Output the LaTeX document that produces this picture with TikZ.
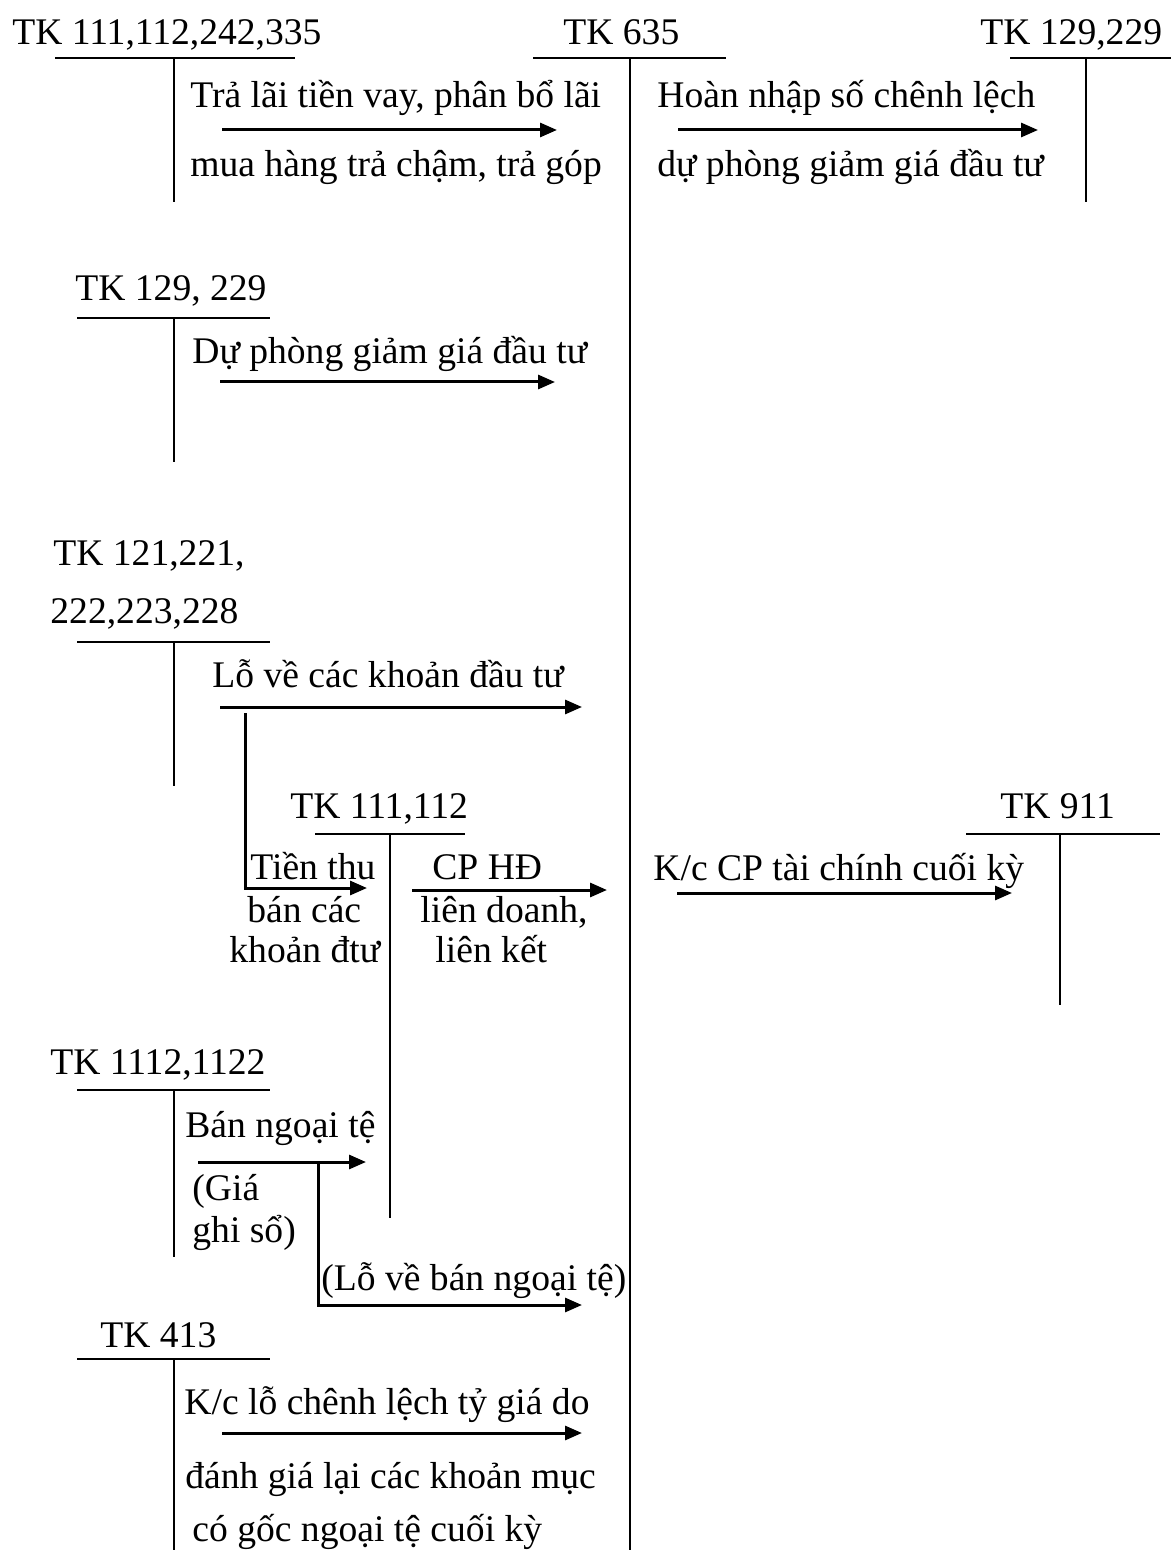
\documentclass[tikz,border=0pt]{standalone}
\usepackage{fontspec}
\setmainfont{Liberation Serif}
\usetikzlibrary{arrows.meta}
\begin{document}
\begin{tikzpicture}[x=0.5pt,y=-0.5pt,
  tline/.style={line width=1pt},
  flow/.style={line width=1.5pt,-{Triangle[length=8.5pt,width=7pt]}},
  lbl/.style={inner sep=0pt,anchor=base west,font=\fontsize{18.8}{23}\selectfont}]
\useasboundingbox (0,0) rectangle (1171,1550);
\clip (0,0) rectangle (1171,1550);

% ---------- T accounts ----------
% TK 111,112,242,335
\node[lbl] (tA) at (12,45) {TK 111,112,242,335};
\coordinate (tAl) at (55,58); \coordinate (tAr) at (295,58);
\coordinate (tAt) at (174,58); \coordinate (tAb) at (174,202);
\draw[tline] (tAl) -- (tAr); \draw[tline] (tAt) -- (tAb);
% TK 635
\node[lbl] (tB) at (563,45) {TK 635};
\coordinate (tBl) at (533,58); \coordinate (tBr) at (726,58);
\coordinate (tBt) at (630,58); \coordinate (tBb) at (630,1550);
\draw[tline] (tBl) -- (tBr); \draw[tline] (tBt) -- (tBb);
% TK 129,229 (right)
\node[lbl] (tC) at (980,45) {TK 129,229};
\coordinate (tCl) at (1010,58); \coordinate (tCr) at (1171,58);
\coordinate (tCt) at (1086,58); \coordinate (tCb) at (1086,202);
\draw[tline] (tCl) -- (tCr); \draw[tline] (tCt) -- (tCb);
% TK 129, 229 (left)
\node[lbl] (tD) at (75,301) {TK 129, 229};
\coordinate (tDl) at (77,318); \coordinate (tDr) at (270,318);
\coordinate (tDt) at (174,318); \coordinate (tDb) at (174,462);
\draw[tline] (tDl) -- (tDr); \draw[tline] (tDt) -- (tDb);
% TK 121,...
\node[lbl] (tE1) at (53,566) {TK 121,221,};
\node[lbl] (tE2) at (50,623) {222,223,228};
\coordinate (tEl) at (77,642); \coordinate (tEr) at (270,642);
\coordinate (tEt) at (174,642); \coordinate (tEb) at (174,786);
\draw[tline] (tEl) -- (tEr); \draw[tline] (tEt) -- (tEb);
% TK 111,112 (middle)
\node[lbl] (tF) at (290,818) {TK 111,112};
\coordinate (tFl) at (315,834); \coordinate (tFr) at (465,834);
\coordinate (tFt) at (390,834); \coordinate (tFb) at (390,1218);
\draw[tline] (tFl) -- (tFr); \draw[tline] (tFt) -- (tFb);
% TK 911
\node[lbl] (tG) at (1000,818) {TK 911};
\coordinate (tGl) at (966,834); \coordinate (tGr) at (1160,834);
\coordinate (tGt) at (1060,834); \coordinate (tGb) at (1060,1005);
\draw[tline] (tGl) -- (tGr); \draw[tline] (tGt) -- (tGb);
% TK 1112,1122
\node[lbl] (tH) at (50,1074) {TK 1112,1122};
\coordinate (tHl) at (77,1090); \coordinate (tHr) at (270,1090);
\coordinate (tHt) at (174,1090); \coordinate (tHb) at (174,1257);
\draw[tline] (tHl) -- (tHr); \draw[tline] (tHt) -- (tHb);
% TK 413
\node[lbl] (tI) at (100,1347) {TK 413};
\coordinate (tIl) at (77,1359); \coordinate (tIr) at (270,1359);
\coordinate (tIt) at (174,1359); \coordinate (tIb) at (174,1550);
\draw[tline] (tIl) -- (tIr); \draw[tline] (tIt) -- (tIb);

% ---------- texts ----------
\node[lbl] (x1a) at (190,108) {Trả lãi tiền vay, phân bổ lãi};
\node[lbl] (x1b) at (190,177) {mua hàng trả chậm, trả góp};
\node[lbl] (x2a) at (657,108) {Hoàn nhập số chênh lệch};
\node[lbl] (x2b) at (657,177) {dự phòng giảm giá đầu tư};
\node[lbl] (x3) at (192,364) {Dự phòng giảm giá đầu tư};
\node[lbl] (x4) at (212,687) {Lỗ về các khoản đầu tư};
\node[lbl] (x5a) at (250,879) {Tiền thu};
\node[lbl] (x5b) at (247,922) {bán các};
\node[lbl] (x5c) at (229,962) {khoản đtư};
\node[lbl] (x6a) at (432,879) {CP HĐ};
\node[lbl] (x6b) at (420,922) {liên doanh,};
\node[lbl] (x6c) at (435,962) {liên kết};
\node[lbl] (x7) at (653,880) {K/c CP tài chính cuối kỳ};
\node[lbl] (x8) at (185,1137) {Bán ngoại tệ};
\node[lbl] (x9a) at (192,1200) {(Giá};
\node[lbl] (x9b) at (192,1242) {ghi sổ)};
\node[lbl] (x10) at (321,1290) {(Lỗ về bán ngoại tệ)};
\node[lbl] (x11a) at (184,1414) {K/c lỗ chênh lệch tỷ giá do};
\node[lbl] (x11b) at (185,1488) {đánh giá lại các khoản mục};
\node[lbl] (x11c) at (192,1541) {có gốc ngoại tệ cuối kỳ};

% ---------- arrows ----------
\coordinate (a1s) at (222,130); \coordinate (a1e) at (557,130);
\draw[flow] (a1s) -- (a1e);
\coordinate (a2s) at (678,130); \coordinate (a2e) at (1038,130);
\draw[flow] (a2s) -- (a2e);
\coordinate (a3s) at (220,382); \coordinate (a3e) at (555,382);
\draw[flow] (a3s) -- (a3e);
\coordinate (a4s) at (220,707); \coordinate (a4e) at (582,707);
\draw[flow] (a4s) -- (a4e);
\coordinate (a5s) at (245,713); \coordinate (a5e) at (367,888);
\draw[flow] (a5s) |- (a5e);
\coordinate (a6s) at (412,890); \coordinate (a6e) at (607,890);
\draw[flow] (a6s) -- (a6e);
\coordinate (a7s) at (677,893); \coordinate (a7e) at (1012,893);
\draw[flow] (a7s) -- (a7e);
\coordinate (a8s) at (198,1162); \coordinate (a8e) at (366,1162);
\draw[flow] (a8s) -- (a8e);
\coordinate (a9s) at (318,1162); \coordinate (a9e) at (582,1305);
\draw[flow] (a9s) |- (a9e);
\coordinate (a10s) at (222,1433); \coordinate (a10e) at (582,1433);
\draw[flow] (a10s) -- (a10e);
\end{tikzpicture}
\end{document}
